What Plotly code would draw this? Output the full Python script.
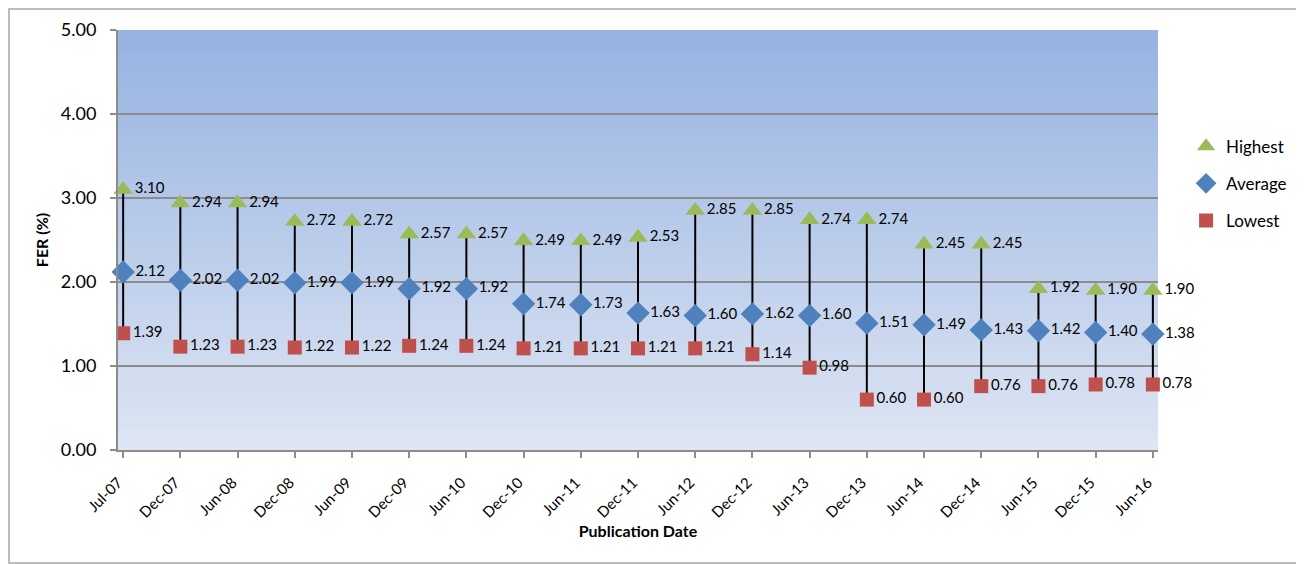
import plotly.graph_objects as go

dates = ["Jul-07", "Dec-07", "Jun-08", "Dec-08", "Jun-09", "Dec-09", "Jun-10", "Dec-10",
         "Jun-11", "Dec-11", "Jun-12", "Dec-12", "Jun-13", "Dec-13", "Jun-14", "Dec-14",
         "Jun-15", "Dec-15", "Jun-16"]
highest = [3.10, 2.94, 2.94, 2.72, 2.72, 2.57, 2.57, 2.49, 2.49, 2.53, 2.85, 2.85, 2.74, 2.74,
           2.45, 2.45, 1.92, 1.90, 1.90]
average = [2.12, 2.02, 2.02, 1.99, 1.99, 1.92, 1.92, 1.74, 1.73, 1.63, 1.60, 1.62, 1.60, 1.51,
           1.49, 1.43, 1.42, 1.40, 1.38]
lowest = [1.39, 1.23, 1.23, 1.22, 1.22, 1.24, 1.24, 1.21, 1.21, 1.21, 1.21, 1.14, 0.98, 0.60,
          0.60, 0.76, 0.76, 0.78, 0.78]
y_ticks = [0, 1, 2, 3, 4, 5]

FONT = "Lato"
idx = list(range(len(dates)))

fig = go.Figure()

# vertical high-low lines
lx, ly = [], []
for i in idx:
    lx += [i, i, None]
    ly += [lowest[i], highest[i], None]
fig.add_trace(go.Scatter(x=lx, y=ly, mode="lines", line=dict(color="black", width=2),
                         showlegend=False, hoverinfo="skip", cliponaxis=False))

series = [
    ("Highest", highest, "triangle-up", 17, "#9bbb59"),
    ("Average", average, "diamond", 18, "#4f81bd"),
    ("Lowest", lowest, "square", 14, "#c0504d"),
]
for name, vals, sym, size, col in series:
    fig.add_trace(go.Scatter(
        x=idx, y=vals, mode="markers+text", name=name, legendgroup=name,
        marker=dict(symbol=sym, size=size, color=col),
        text=[f"{v:.2f}" for v in vals], textposition="middle right",
        textfont=dict(family=FONT, size=15, color="black"), cliponaxis=False,
    ))

# gradient background strips
n = 60
top = (150, 179, 225)
bot = (222, 229, 243)
shapes = []
for k in range(n):
    t = k / (n - 1)
    c = tuple(round(top[j] + (bot[j] - top[j]) * t) for j in range(3))
    shapes.append(dict(type="rect", xref="x domain", yref="y domain",
                       x0=0, x1=1, y0=1 - (k + 1) / n, y1=1 - k / n,
                       fillcolor=f"rgb{c}", line=dict(width=0), layer="below"))

# figure coordinates (page has an 8px body margin)
FW, FH = 1296, 556
L, R, T, B = 110, 1150, 22, 442
W, H = R - L, B - T
shapes.append(dict(type="rect", xref="paper", yref="paper",
                   x0=(1 - L) / W, x1=(1293 - L) / W,
                   y0=(B - 555) / H, y1=(B - 1) / H,
                   line=dict(color="#a6a6a6", width=1.5), fillcolor="rgba(0,0,0,0)"))

fig.update_layout(
    width=FW, height=FH,
    margin=dict(l=L, r=FW - R, t=T, b=FH - B, autoexpand=False),
    paper_bgcolor="white", plot_bgcolor="rgba(0,0,0,0)",
    shapes=shapes,
    font=dict(family=FONT, color="black"),
    legend=dict(x=1.027, y=0.765, xanchor="left", yanchor="top",
                font=dict(family=FONT, size=17), tracegroupgap=12,
                bgcolor="rgba(0,0,0,0)", itemwidth=30),
    xaxis=dict(range=[-0.09, len(dates) - 1 + 0.09], tickmode="array", tickvals=idx,
               ticktext=dates, tickangle=-45, showgrid=False, zeroline=False,
               showline=True, linecolor="#8c8c8c", linewidth=2,
               ticks="outside", ticklen=6, tickcolor="#8c8c8c", tickwidth=1.5,
               tickfont=dict(family=FONT, size=15), automargin=False,
               ticklabelstandoff=10, ticklabelshift=-5,
               title=dict(text="<b>Publication Date</b>", font=dict(family=FONT, size=16),
                          standoff=2)),
    yaxis=dict(range=[0, 5], tickvals=y_ticks, tickformat=".2f",
               showgrid=True, gridcolor="#8c8c8c", gridwidth=1.5, zeroline=False,
               showline=True, linecolor="#8c8c8c", linewidth=2,
               ticks="outside", ticklen=6, tickcolor="#8c8c8c", tickwidth=1.5,
               tickfont=dict(family=FONT, size=18), automargin=False,
               ticklabelstandoff=10,
               title=dict(text="<b>FER (%)</b>", font=dict(family=FONT, size=16),
                          standoff=8)),
)

fig.write_html("out.html")
